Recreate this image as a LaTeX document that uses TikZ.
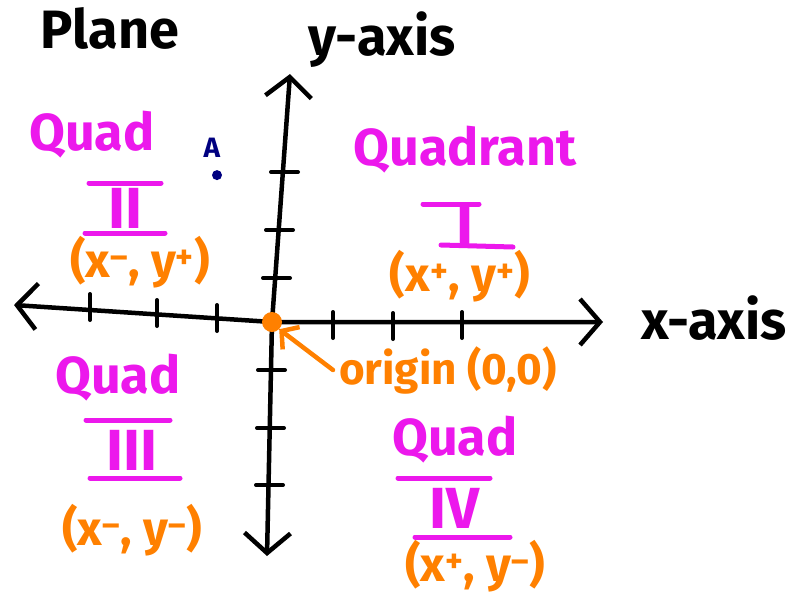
\documentclass[tikz,border=0pt]{standalone}
\usepackage{fontspec}
\setmainfont{Fira Sans}
\usetikzlibrary{arrows.meta, positioning, calc}
\definecolor{quadpink}{RGB}{236,24,236}
\definecolor{signorange}{RGB}{255,128,0}
\definecolor{pointblue}{RGB}{0,0,128}

\begin{document}
\begin{tikzpicture}[
    x=1pt, y=-1pt,
    axis/.style={line width=4.5pt, line cap=round, line join=round, {Straight Barb[length=20pt,width=46pt,line width=4.5pt]}-{Straight Barb[length=20pt,width=46pt,line width=4.5pt]}},
    tickmark/.style={line width=4pt, line cap=round},
    quad/.style={text=quadpink, font=\fontsize{52}{56}\selectfont\bfseries, inner sep=0pt},
    numeral/.style={text=quadpink, font=\fontsize{58}{62}\selectfont\bfseries, inner sep=0pt},
    numbar/.style={draw=quadpink, line width=5pt, line cap=round},
    signs/.style={text=signorange, font=\fontsize{48}{52}\selectfont\bfseries, inner sep=0pt},
    axislabel/.style={font=\fontsize{54}{58}\selectfont\bfseries, inner sep=0pt},
    pointer/.style={draw=signorange, line width=4.5pt, line cap=round, -{Straight Barb[length=12pt,width=28pt,line width=4.5pt]}}
]
\useasboundingbox (0,0) rectangle (800,606);

% Axes
\coordinate (xleft) at (14,305);
\coordinate (xright) at (603,322);
\coordinate (ytop) at (290,74);
\coordinate (ybottom) at (267,556);
\coordinate (center) at (272,322);
\draw[axis] (xleft) -- (center) -- (xright);
\draw[axis] (ytop) -- (center) -- (ybottom);

% Tick marks
\foreach \x/\y in {90/306, 157/312, 217/317, 333/324, 393/325, 462/324}
  \draw[tickmark] (\x,\y-12) -- (\x,\y+14);
\foreach \x/\y in {284/172, 279/230, 276/278, 271/370, 270/428, 269/485}
  \draw[tickmark] (\x-13,\y) -- (\x+14,\y);

% Origin
\node[circle, fill=signorange, minimum size=20pt, inner sep=0pt] (origin) at (center) {};
\node[signs, font=\fontsize{44}{48}\selectfont\bfseries] (origtext) at (448,370) {origin (0,0)};
\draw[pointer] ([xshift=-6pt]origtext.west) -- (origin.south east);

% Axis labels
\node[axislabel] (plane) at (110,28) {Plane};
\node[axislabel] (ylabel) at (382,40) {y-axis};
\node[axislabel] (xlabel) at (714,318) {x-axis};

% Point A
\node[text=pointblue, font=\fontsize{28}{30}\selectfont\bfseries, inner sep=0pt] (pointA) at (212,148) {A};
\node[circle, fill=pointblue, minimum size=10pt, inner sep=0pt, below=12pt of pointA.south, xshift=5pt] (dotA) {};

% Quadrant I
\node[quad] (q1name) at (465,150) {Quadrant};
\node[numeral] (q1num) at (465,226) {I};
\draw[numbar] ([shift={(-42,-22)}]q1num.center) -- ([shift={(14,-22)}]q1num.center);
\draw[numbar] ([shift={(-24,19)}]q1num.center) -- ([shift={(48,21)}]q1num.center);
\node[signs] (q1signs) at (460,276) {(x\textsuperscript{+}, y\textsuperscript{+})};

% Quadrant II
\node[quad] (q2name) at (92,135) {Quad};
\node[numeral] (q2num) at (125,208) {II};
\draw[numbar] ([shift={(-36,-25)}]q2num.center) -- ([shift={(36,-25)}]q2num.center);
\draw[numbar] ([shift={(-40,25)}]q2num.center) -- ([shift={(40,25)}]q2num.center);
\node[signs] (q2signs) at (140,262) {(x\textsuperscript{--}, y\textsuperscript{+})};

% Quadrant III
\node[quad] (q3name) at (118,378) {Quad};
\node[numeral] (q3num) at (132,450) {III};
\draw[numbar] ([shift={(-46,-30)}]q3num.center) -- ([shift={(38,-30)}]q3num.center);
\draw[numbar] ([shift={(-42,28)}]q3num.center) -- ([shift={(48,28)}]q3num.center);
\node[signs] (q3signs) at (132,530) {(x\textsuperscript{--}, y\textsuperscript{--})};

% Quadrant IV
\node[quad] (q4name) at (455,440) {Quad};
\node[numeral] (q4num) at (455,508) {IV};
\draw[numbar] ([shift={(-57,-30)}]q4num.center) -- ([shift={(35,-30)}]q4num.center);
\draw[numbar] ([shift={(-40,29)}]q4num.center) -- ([shift={(55,29)}]q4num.center);
\node[signs] (q4signs) at (475,566) {(x\textsuperscript{+}, y\textsuperscript{--})};

\end{tikzpicture}
\end{document}
